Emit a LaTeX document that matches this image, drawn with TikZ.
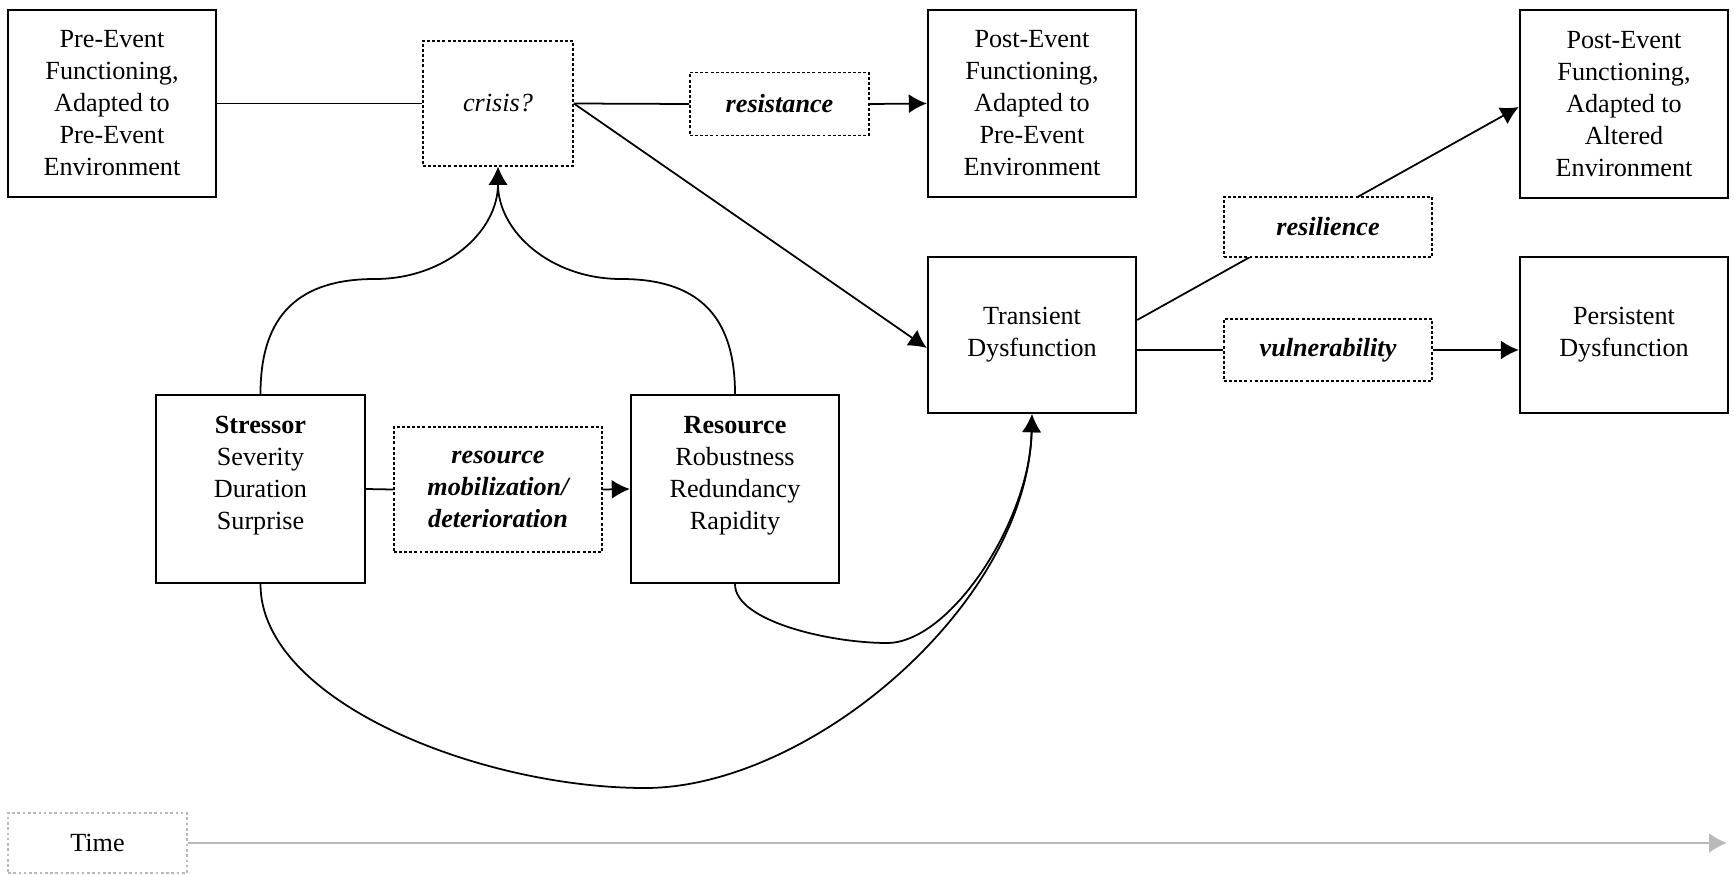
\documentclass[tikz,border=0pt]{standalone}
\usepackage{fontspec}
\setmainfont{Liberation Serif}
\usetikzlibrary{positioning,calc,arrows.meta}
\tikzset{
  box/.style={draw, line width=1.4pt, minimum width=4.16cm, align=center, inner sep=0pt,
    font=\fontsize{14.9}{18.2}\selectfont},
  dbox/.style={box, dash pattern=on 1.7pt off 1.2pt, line width=1pt, fill=white},
  con/.style={line width=1pt},
}

\begin{document}
\begin{tikzpicture}[x=0.02cm, y=-0.02cm, >={Latex[length=0.36cm,width=0.38cm]}]
        \useasboundingbox (0,0) rectangle (1734,875);
        %Top row
        \node [box, minimum height=3.74cm] (pre) at (112,103.5) {Pre-Event\\Functioning,\\Adapted to\\Pre-Event\\Environment};
        \node [dbox, minimum width=3cm, minimum height=2.5cm, font=\fontsize{14.9}{18.2}\selectfont\itshape] (crisis) at (498,103.5) {crisis?};
        \node [dbox, minimum width=3.58cm, minimum height=1.26cm, font=\fontsize{14.9}{18.2}\selectfont\bfseries\itshape] (resist) at (779.5,104) {resistance};
        \node [box, minimum height=3.74cm] (post1) at (1032,103.5) {Post-Event\\Functioning,\\Adapted to\\Pre-Event\\Environment};
        \node [box, minimum height=3.76cm] (post2) at (1624,104) {Post-Event\\Functioning,\\Adapted to\\Altered\\Environment};
        %Middle row
        \node [box, minimum height=3.12cm] (trans) at (1032,335) {Transient\\Dysfunction};
        \node [box, minimum height=3.12cm] (persist) at (1624,335) {Persistent\\Dysfunction};
        \node [dbox, minimum height=1.24cm, font=\fontsize{14.9}{18.2}\selectfont\bfseries\itshape] (vuln) at (1328,350) {vulnerability};
        %Bottom row
        \node [box, minimum width=4.18cm, minimum height=3.76cm] (stress) at (260.5,489) {\textbf{Stressor}\\Severity\\Duration\\Surprise\\\mbox{}};
        \node [dbox, minimum height=2.5cm, font=\fontsize{14.9}{18.2}\selectfont\bfseries\itshape] (mobil) at (498,489.5) {resource\\mobilization/\\deterioration};
        \node [box, minimum height=3.76cm] (res) at (735,489) {\textbf{Resource}\\Robustness\\Redundancy\\Rapidity\\\mbox{}};
        %Time
        \node [box, draw=gray!55, dash pattern=on 1.5pt off 1.5pt, line width=0.9pt, minimum width=3.58cm, minimum height=1.2cm] (time) at (97.5,843) {Time};
        \coordinate (tend) at (1727,843);
        \draw [con, gray!55, line width=1.3pt, ->, >={Latex[length=0.36cm,width=0.4cm]}] (time.east) -- (tend);

        %Traits et Fleches
        \draw [con] (pre.east) -- (crisis.west);
        \draw [con] (crisis.east) -- (resist.west);
        \draw [con,->] (resist.east) -- (post1.west);
        \draw [con,->] (crisis.east) -- ($(trans.west)+(0,13)$);
        \draw [con] (vuln.west -| trans.east) -- (vuln.west);
        \draw [con,->] (vuln.east) -- (vuln.east -| persist.west);
        \draw [con,->] ($(trans.east)+(0,-15)$) -- ($(post2.west)+(0,3)$);
        \node [dbox, minimum height=1.2cm, font=\fontsize{14.9}{18.2}\selectfont\bfseries\itshape] (resil) at (1328,227) {resilience};
        \draw [con] (stress.east) -- (mobil.west);
        \draw [con,->] (mobil.east) -- (res.west);

        %Courbes
        \coordinate (lbump) at (375,279);
        \coordinate (rbump) at (621,279);
        \coordinate (rlow) at (887,643);
        \coordinate (slow) at (645,788);
        \draw [con,->] (stress.north) .. controls +(0,-80) and +(-75,0) .. (lbump) .. controls +(70,0) and +(0,65) .. (crisis.south);
        \draw [con,->] (res.north) .. controls +(0,-80) and +(75,0) .. (rbump) .. controls +(-70,0) and +(0,65) .. (crisis.south);
        \draw [con,->] (res.south) .. controls +(0,37) and +(-57,0) .. (rlow) .. controls +(63,0) and +(-2,107) .. (trans.south);
        \draw [con,->] (stress.south) .. controls +(0,117) and +(-165,0) .. (slow) .. controls +(165,0) and +(-5,190) .. (trans.south);
\end{tikzpicture}
\end{document}
